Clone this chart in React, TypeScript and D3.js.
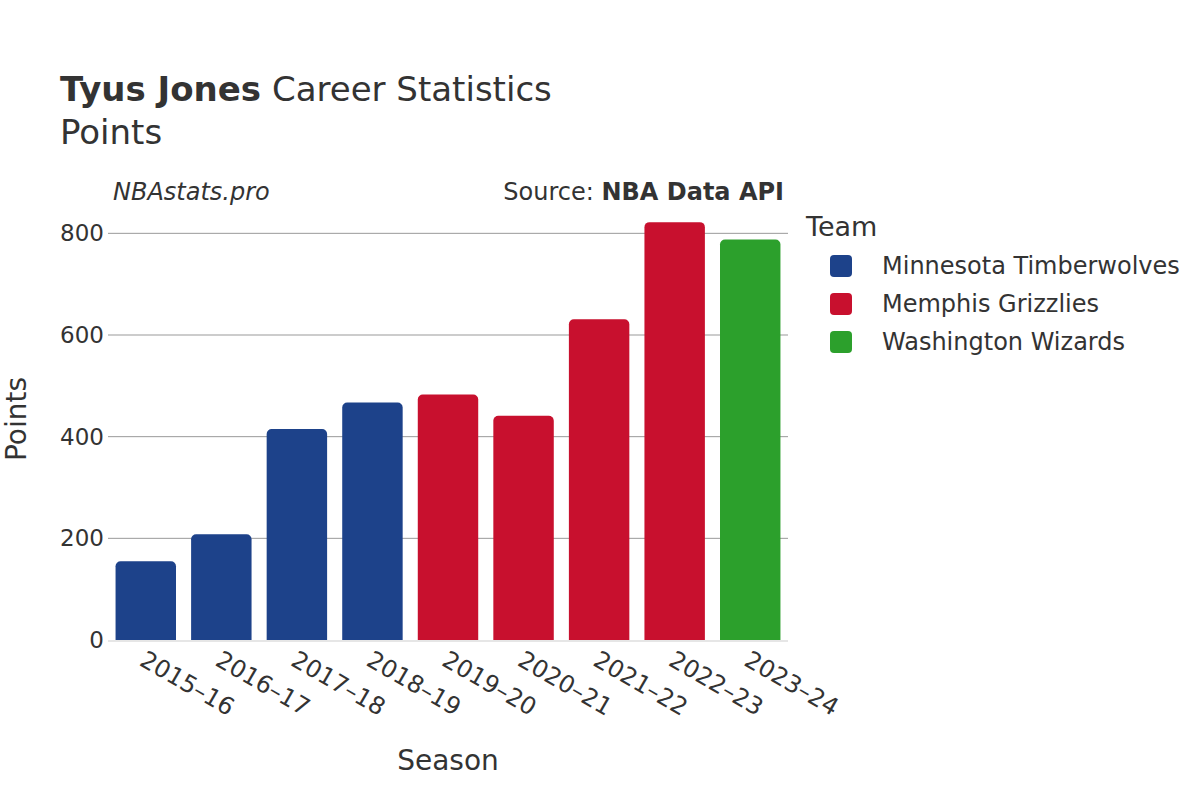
import React from "react";
import * as d3 from "d3";

// season labels and points
const seasons = ["2015–16", "2016–17", "2017–18", "2018–19", "2019–20", "2020–21", "2021–22", "2022–23", "2023–24"];
const points = [155, 208, 415, 467, 483, 441, 631, 822, 788];
const teamOf = [0, 0, 0, 0, 1, 1, 1, 1, 2];

const teams = ["Minnesota Timberwolves", "Memphis Grizzlies", "Washington Wizards"];
const teamColors = ["#1d428a", "#c8102e", "#2ca02c"];
const yTicks = [0, 200, 400, 600, 800];

const FONT = "DejaVu Sans, sans-serif";
const TEXT = "#333";

function topRoundedBar(x: number, y: number, w: number, h: number, r: number) {
  const rr = Math.min(r, h, w / 2);
  const p = d3.path();
  p.moveTo(x, y + h);
  p.lineTo(x, y + rr);
  p.arcTo(x, y, x + rr, y, rr);
  p.lineTo(x + w - rr, y);
  p.arcTo(x + w, y, x + w, y + rr, rr);
  p.lineTo(x + w, y + h);
  p.closePath();
  return p.toString();
}

export default function App() {
  const width = 1200;
  const height = 800;
  const plot = { left: 108, right: 788, top: 213, bottom: 640 };

  const x = d3.scaleBand<string>()
    .domain(seasons)
    .range([plot.left, plot.right])
    .paddingInner(0.2)
    .paddingOuter(0.1);

  const y = d3.scaleLinear()
    .domain([0, 840])
    .range([plot.bottom, plot.top]);

  return (
    <svg width={width} height={height} style={{ position: "absolute", left: 0, top: 0, background: "#fff" }} fontFamily={FONT}>
      {/* titles */}
      <text x={60} y={101} fontSize={34} fill={TEXT}>
        <tspan fontWeight="bold">Tyus Jones</tspan> Career Statistics
      </text>
      <text x={60} y={144} fontSize={34} fill={TEXT}>Points</text>
      <text x={113} y={200} fontSize={24} fontStyle="italic" fill={TEXT}>NBAstats.pro</text>
      <text x={784} y={200} fontSize={24} textAnchor="end" fill={TEXT}>
        Source: <tspan fontWeight="bold">NBA Data API</tspan>
      </text>

      {/* grid + y ticks */}
      {yTicks.map(t => (
        <g key={t}>
          {t > 0 && <line x1={plot.left} x2={plot.right} y1={y(t)} y2={y(t)} stroke="#999" strokeWidth={1} />}
          <text x={104} y={y(t)} dy="0.35em" fontSize={23} textAnchor="end" fill={TEXT}>{t}</text>
        </g>
      ))}

      {/* bars */}
      {seasons.map((s, i) => (
        <path
          key={s}
          d={topRoundedBar(x(s)!, y(points[i]), x.bandwidth(), y(0) - y(points[i]), 5)}
          fill={teamColors[teamOf[i]]}
        />
      ))}
      <line x1={plot.left} x2={plot.right} y1={y(0) + 1} y2={y(0) + 1} stroke="#e6e6e6" strokeWidth={2} />

      {/* x tick labels */}
      {seasons.map(s => {
        const cx = x(s)! + x.bandwidth() / 2;
        return (
          <text key={s} transform={`translate(${cx + 1},${650}) rotate(30)`} fontSize={24} fill={TEXT} dy="0.7em">
            {s}
          </text>
        );
      })}

      {/* axis titles */}
      <text x={448} y={770} fontSize={28} textAnchor="middle" fill={TEXT}>Season</text>
      <text transform={`translate(26,${419}) rotate(-90)`} fontSize={28} textAnchor="middle" fill={TEXT}>Points</text>

      {/* legend */}
      <text x={806} y={236} fontSize={27} fill={TEXT}>Team</text>
      {teams.map((t, i) => (
        <g key={t} transform={`translate(0,${266 + i * 38})`}>
          <rect x={830} y={-11} width={22} height={22} rx={4} fill={teamColors[i]} />
          <text x={882} y={0} dy="0.35em" fontSize={24} fill={TEXT}>{t}</text>
        </g>
      ))}
    </svg>
  );
}
